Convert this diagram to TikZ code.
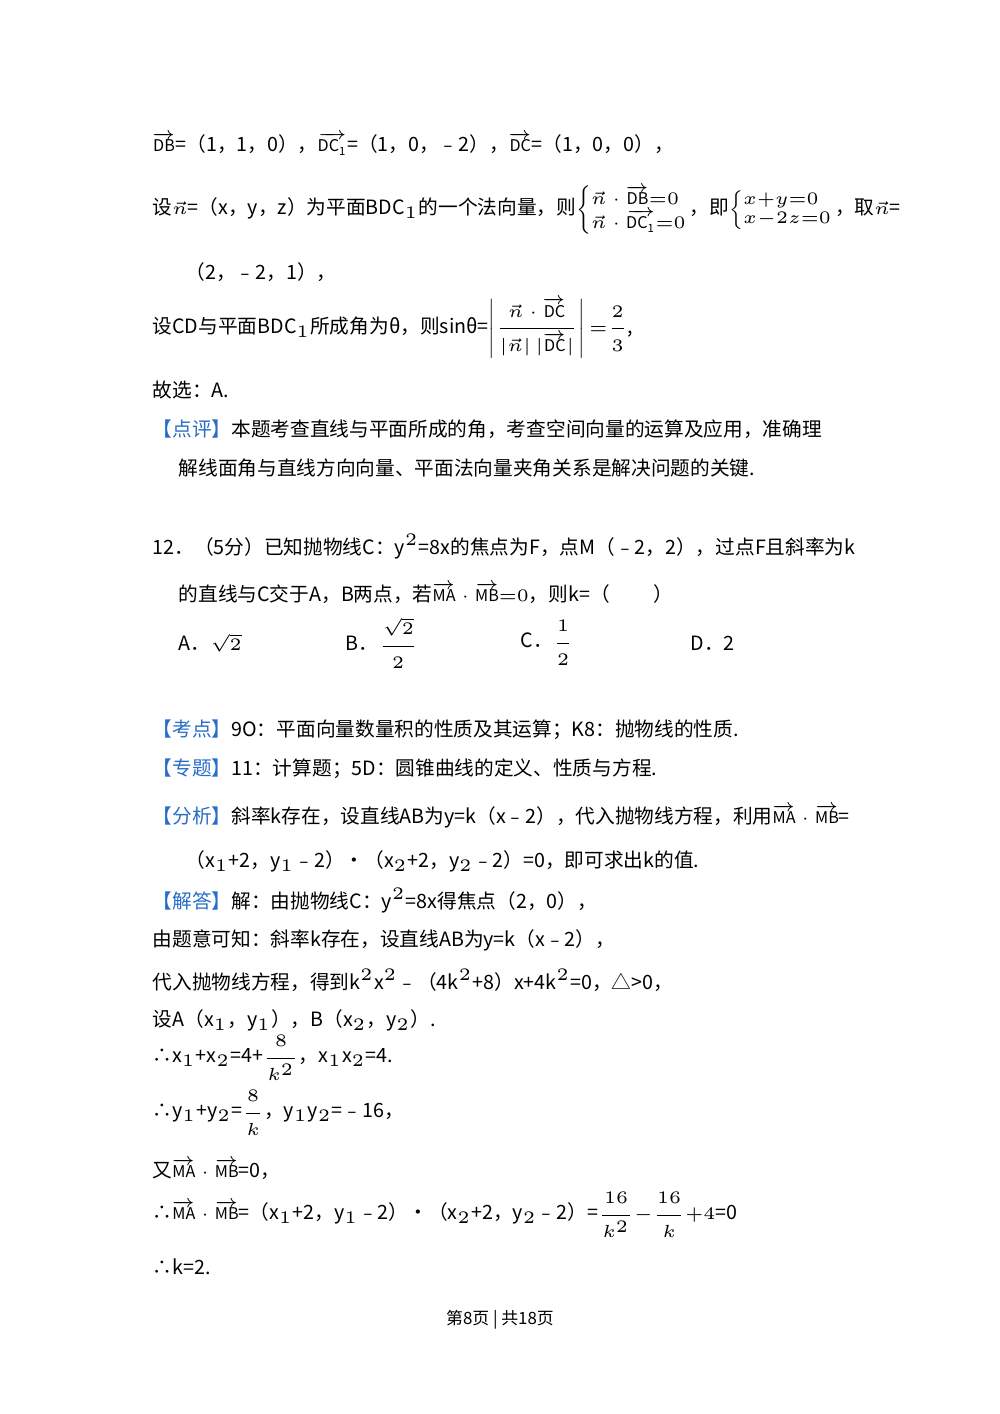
\documentclass[tikz,border=0pt]{standalone}
\usepackage{amsmath}
\usepackage{fontspec}
\setmainfont{Noto Sans CJK SC}
\definecolor{cblue}{RGB}{40,110,200}
\newcommand{\vv}[1]{\overrightarrow{\mathrm{#1}}}
\newcommand{\kh}[1]{{\color{cblue}【#1】}}
\newcommand{\mm}[1]{{\fontsize{4.6pt}{5.5pt}\selectfont$#1$}}
\begin{document}
\begin{tikzpicture}[t/.style={anchor=west,inner sep=0pt,font=\fontsize{5.6pt}{7pt}\selectfont}]
\useasboundingbox (0,0) rectangle (10,14.14);
\fill[white] (0,0) rectangle (10,14.14);
\def\Y#1{14.14-#1/100}
\node[t] (l1) at (1.52,{\Y{144}}) {\mm{\vv{DB}}=（1，1，0），\mm{\vv{DC_1}}=（1，0，﹣2），\mm{\vv{DC}}=（1，0，0），};
\node[t] (l2) at (1.52,{\Y{210}}) {设\mm{\vec n}=（x，y，z）为平面BDC$_1$的一个法向量，则\mm{\left\{\begin{array}{@{}l@{}}\vec n\cdot\vv{DB}{=}0\\ \vec n\cdot\vv{DC_1}{=}0\end{array}\right.}，即\mm{\left\{\begin{array}{@{}l@{}}x{+}y{=}0\\ x{-}2z{=}0\end{array}\right.}，取\mm{\vec n}=};
\node[t] (l3) at (1.85,{\Y{272}}) {（2，﹣2，1），};
\node[t] (l4) at (1.52,{\Y{328}}) {设CD与平面BDC$_1$所成角为θ，则sinθ=\mm{\left|\dfrac{\vec n\cdot\vv{DC}}{|\vec n|\,|\vv{DC}|}\right|{=}\dfrac{2}{3}},};
\node[t] (l5) at (1.52,{\Y{390}}) {故选：A.};
\node[t] (l6) at (1.52,{\Y{429}}) {\kh{点评}本题考查直线与平面所成的角，考查空间向量的运算及应用，准确理};
\node[t] (l7) at (1.78,{\Y{468}}) {解线面角与直线方向向量、平面法向量夹角关系是解决问题的关键.};
\node[t] (l8) at (1.52,{\Y{547}}) {12．（5分）已知抛物线C：y$^2$=8x的焦点为F，点M（﹣2，2），过点F且斜率为k};
\node[t] (l9) at (1.78,{\Y{593}}) {的直线与C交于A，B两点，若\mm{\vv{MA}\cdot\vv{MB}{=}0}，则k=（\hspace{2.2em}）};
\node[t] (a) at (1.78,{\Y{643}}) {A．\mm{\sqrt{2}}};
\node[t] (b) at (3.45,{\Y{643}}) {B．\mm{\dfrac{\sqrt2}{2}}};
\node[t] (c) at (5.20,{\Y{643}}) {C．\mm{\dfrac{1}{2}}};
\node[t] (d) at (6.90,{\Y{643}}) {D．2};
\node[t] (l10) at (1.52,{\Y{730}}) {\kh{考点}9O：平面向量数量积的性质及其运算；K8：抛物线的性质.};
\node[t] (l11) at (1.52,{\Y{769}}) {\kh{专题}11：计算题；5D：圆锥曲线的定义、性质与方程.};
\node[t] (l12) at (1.52,{\Y{816}}) {\kh{分析}斜率k存在，设直线AB为y=k（x﹣2），代入抛物线方程，利用\mm{\vv{MA}\cdot\vv{MB}}=};
\node[t] (l13) at (1.85,{\Y{861}}) {（x$_1$+2，y$_1$﹣2）•（x$_2$+2，y$_2$﹣2）=0，即可求出k的值.};
\node[t] (l14) at (1.52,{\Y{901}}) {\kh{解答}解：由抛物线C：y$^2$=8x得焦点（2，0），};
\node[t] (l15) at (1.52,{\Y{940}}) {由题意可知：斜率k存在，设直线AB为y=k（x﹣2），};
\node[t] (l16) at (1.52,{\Y{980}}) {代入抛物线方程，得到k$^2$x$^2$﹣（4k$^2$+8）x+4k$^2$=0，△>0，};
\node[t] (l17) at (1.52,{\Y{1020}}) {设A（x$_1$，y$_1$），B（x$_2$，y$_2$）.};
\node[t] (l18) at (1.52,{\Y{1058}}) {∴x$_1$+x$_2$=4+\mm{\dfrac{8}{k^2}}，x$_1$x$_2$=4.};
\node[t] (l19) at (1.52,{\Y{1113}}) {∴y$_1$+y$_2$=\mm{\dfrac{8}{k}}，y$_1$y$_2$=﹣16，};
\node[t] (l20) at (1.52,{\Y{1169}}) {又\mm{\vv{MA}\cdot\vv{MB}}=0，};
\node[t] (l21) at (1.52,{\Y{1215}}) {∴\mm{\vv{MA}\cdot\vv{MB}}=（x$_1$+2，y$_1$﹣2）•（x$_2$+2，y$_2$﹣2）=\mm{\dfrac{16}{k^2}{-}\dfrac{16}{k}{+}4}=0};
\node[t] (l22) at (1.52,{\Y{1267}}) {∴k=2.};
\node[t,anchor=center,font=\fontsize{4.8pt}{6pt}\selectfont] (ft) at (5.0,{\Y{1320}}) {第8页 | 共18页};
\end{tikzpicture}
\end{document}
